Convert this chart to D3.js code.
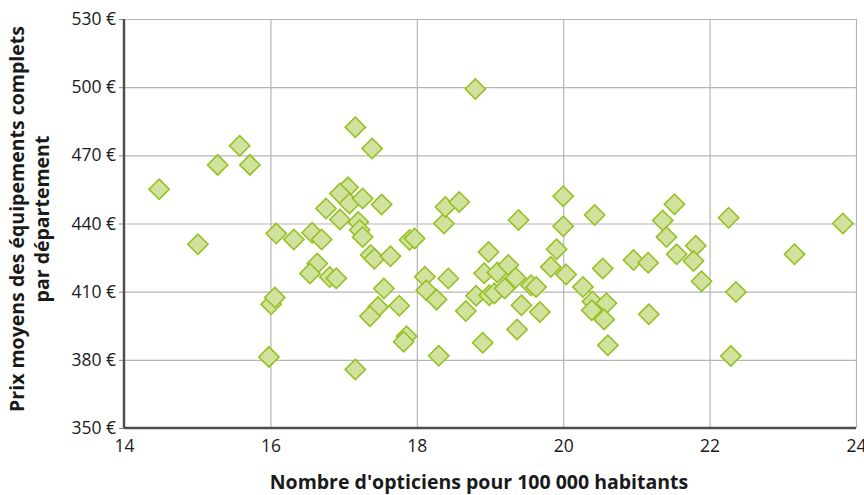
<!DOCTYPE html>
<html>
<head>
<meta charset="utf-8">
<script src="https://cdn.jsdelivr.net/npm/d3@7"></script>
<style>
  body { margin: 0; background: #fff; }
  text { font-family: "Open Sans", sans-serif; fill: #1a1a1a; }
</style>
</head>
<body>
<div id="scatter"></div>
<script>
// Nombre d'opticiens pour 100 000 habitants (x) / prix moyen en euros (y)
var opticiens = [14.48, 15.01, 15.28, 15.58, 15.72, 15.98, 16.01, 16.06, 16.08, 16.32,
  16.57, 16.70, 16.64, 16.54, 16.81, 16.90, 16.76, 16.95, 17.06, 16.95,
  17.08, 17.26, 17.20, 17.22, 17.26, 17.16, 17.39, 17.52, 17.37, 17.42,
  17.64, 17.16, 17.55, 17.47, 17.36, 17.76, 17.86, 17.82, 17.90, 17.97,
  18.11, 18.43, 18.13, 18.27, 18.30, 18.37, 18.39, 18.58, 18.80, 18.67,
  18.81, 18.90, 18.92, 18.98, 18.99, 19.06, 19.10, 19.25, 19.20, 19.35,
  19.39, 19.43, 19.37, 19.56, 19.63, 19.68, 19.83, 19.91, 20.00, 20.00,
  20.04, 20.27, 20.40, 20.59, 20.39, 20.56, 20.61, 20.43, 20.54, 20.96,
  21.16, 21.17, 21.36, 21.52, 21.41, 21.55, 21.81, 21.78, 21.89, 22.26,
  22.36, 22.29, 23.16, 23.82];
var prix = [455.1, 430.9, 465.8, 474.2, 465.8, 381.3, 404.5, 407.4, 435.6, 433.0,
  435.9, 433.0, 422.4, 418.0, 416.5, 415.9, 446.6, 441.8, 455.9, 453.2,
  448.8, 451.0, 440.7, 437.1, 434.1, 482.4, 473.0, 448.4, 426.1, 424.5,
  425.6, 375.7, 411.4, 403.3, 399.2, 403.8, 390.4, 388.0, 432.7, 433.4,
  416.6, 415.8, 410.6, 406.5, 381.8, 440.0, 447.3, 449.5, 499.2, 401.5,
  408.2, 387.5, 418.1, 427.5, 408.4, 409.2, 418.4, 421.7, 411.4, 416.1,
  441.5, 404.0, 393.3, 412.8, 412.1, 401.0, 420.9, 428.7, 452.0, 438.8,
  417.6, 412.1, 405.7, 404.9, 401.8, 397.7, 386.4, 443.7, 420.2, 423.9,
  422.7, 400.1, 441.3, 448.5, 434.1, 426.5, 430.2, 423.5, 414.6, 442.5,
  409.9, 381.7, 426.5, 440.0];

var xTicks = [14, 16, 18, 20, 22, 24];
var yTicks = [350, 380, 410, 440, 470, 500, 530];

var xLabel = "Nombre d'opticiens pour 100 000 habitants";
var yLabel = ["Prix moyens des équipements complets", "par département"];

var width = 864;
var height = 495;
var margin = { top: 19, right: 8, bottom: 67, left: 124 };
var innerW = width - margin.left - margin.right;
var innerH = height - margin.top - margin.bottom;

var data = opticiens.map(function(d, i) { return { x: d, y: prix[i] }; });

var svg = d3.select("#scatter")
  .append("svg")
  .attr("width", width)
  .attr("height", height);

var g = svg.append("g")
  .attr("transform", "translate(" + margin.left + "," + margin.top + ")");

var xScale = d3.scaleLinear().domain([14, 24]).range([0, innerW]);
var yScale = d3.scaleLinear().domain([350, 530]).range([innerH, 0]);

// grid
g.append("g")
  .attr("class", "grid")
  .call(d3.axisLeft(yScale).tickValues(yTicks).tickSize(-innerW).tickFormat(""))
  .call(function(s) { s.select(".domain").remove(); });

g.append("g")
  .attr("class", "grid")
  .attr("transform", "translate(0," + innerH + ")")
  .call(d3.axisBottom(xScale).tickValues(xTicks).tickSize(-innerH).tickFormat(""))
  .call(function(s) { s.select(".domain").remove(); });

g.selectAll(".grid line")
  .attr("stroke", "#b5b5b5")
  .attr("stroke-width", 1.2);

// y axis labels with small outer ticks
var yAxis = g.append("g")
  .call(d3.axisLeft(yScale).tickValues(yTicks).tickSize(5).tickPadding(3)
    .tickFormat(function(d) { return d + "\u00a0€"; }));
yAxis.select(".domain").remove();
yAxis.selectAll("line").attr("stroke", "#888");
yAxis.selectAll("text")
  .attr("font-size", 17.5)
  .attr("font-family", "Open Sans, sans-serif")
  .attr("fill", "#1a1a1a");

var xAxis = g.append("g")
  .attr("transform", "translate(0," + innerH + ")")
  .call(d3.axisBottom(xScale).tickValues(xTicks).tickSize(0).tickPadding(12)
    .tickFormat(d3.format("d")));
xAxis.select(".domain").remove();
xAxis.selectAll("text")
  .attr("font-size", 17.5)
  .attr("font-family", "Open Sans, sans-serif")
  .attr("fill", "#1a1a1a");

// the two dark axis lines
g.append("line")
  .attr("x1", 0).attr("x2", 0).attr("y1", 0).attr("y2", innerH)
  .attr("stroke", "#4d4d4d").attr("stroke-width", 2.4);
g.append("line")
  .attr("x1", 0).attr("x2", innerW).attr("y1", innerH).attr("y2", innerH)
  .attr("stroke", "#4d4d4d").attr("stroke-width", 2.4);

// diamonds
var diamond = d3.symbol().type(d3.symbolSquare).size(205);
g.selectAll("path.pt")
  .data(data)
  .enter()
  .append("path")
  .attr("class", "pt")
  .attr("d", diamond)
  .attr("transform", function(d) {
    return "translate(" + xScale(d.x) + "," + yScale(d.y) + ") rotate(45)";
  })
  .attr("fill", "#d1e29e")
  .attr("stroke", "#97c024")
  .attr("stroke-width", 1.6);

// axis titles
svg.append("text")
  .attr("x", 479)
  .attr("y", 489)
  .attr("text-anchor", "middle")
  .attr("font-size", 19.5)
  .attr("font-weight", "bold")
  .text(xLabel);

var yt = svg.append("text")
  .attr("transform", "translate(24,219) rotate(-90)")
  .attr("text-anchor", "middle")
  .attr("font-size", 19.5)
  .attr("font-weight", "bold");
yt.append("tspan").attr("x", 0).attr("dy", 0).text(yLabel[0]);
yt.append("tspan").attr("x", 0).attr("dy", 25).text(yLabel[1]);
</script>
</body>
</html>
